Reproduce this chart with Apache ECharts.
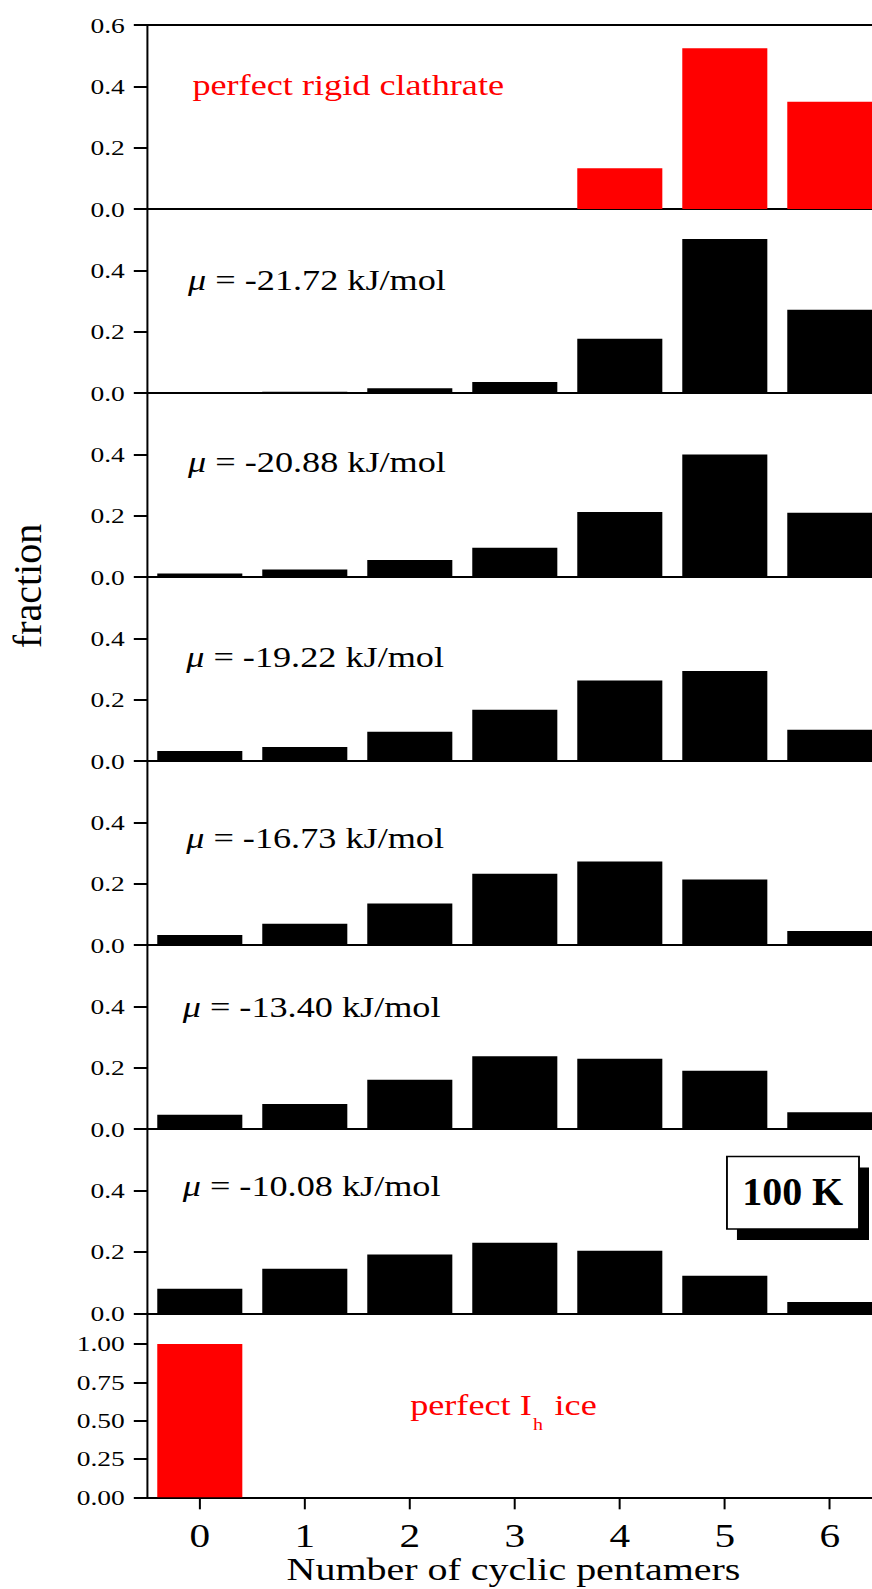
<!DOCTYPE html>
<html>
<head>
<meta charset="utf-8">
<script src="https://cdn.jsdelivr.net/npm/echarts@6/dist/echarts.min.js"></script>
<style>
html,body{margin:0;padding:0;background:#fff;overflow:hidden;}
#c{width:698px;height:1589px;transform:scaleX(1.249284);transform-origin:0 0;}
</style>
</head>
<body>
<div id="c"></div>
<script>
// ---- data ----
const categories = ['0', '1', '2', '3', '4', '5', '6'];
const clathrate = [0, 0, 0, 0, 0.133, 0.524, 0.350];
const mu2172 = [0, 0.004, 0.016, 0.036, 0.177, 0.502, 0.272];
const mu2088 = [0.012, 0.025, 0.056, 0.096, 0.212, 0.400, 0.210];
const mu1922 = [0.033, 0.046, 0.096, 0.168, 0.263, 0.294, 0.102];
const mu1673 = [0.033, 0.070, 0.136, 0.233, 0.273, 0.214, 0.046];
const mu1340 = [0.047, 0.082, 0.161, 0.238, 0.230, 0.191, 0.055];
const mu1008 = [0.080, 0.145, 0.192, 0.230, 0.204, 0.122, 0.037];
const iceIh = [1.00, 0, 0, 0, 0, 0, 0];
const muLabels = ['-21.72', '-20.88', '-19.22', '-16.73', '-13.40', '-10.08'];
const clathrateLabel = 'perfect rigid clathrate';
const xTitle = 'Number of cyclic pentamers';
const yTitle = 'fraction';
const tempLabel = '100 K';

// ---- layout ----
const S = 872 / 698;
const F = 'Liberation Serif';
const panelData = [clathrate, mu2172, mu2088, mu1922, mu1673, mu1340, mu1008, iceIh];
const panelColor = ['#ff0000', '#000', '#000', '#000', '#000', '#000', '#000', '#ff0000'];
const TOP = 25, PH = 184.04;
const GL = 117.9, GW = 588.35;

const grids = [], xAxes = [], yAxes = [], series = [];
panelData.forEach((d, i) => {
  const last = i === 7;
  grids.push({left: GL, width: GW, top: TOP + i * PH, height: PH, containLabel: false, outerBoundsMode: 'none'});
  xAxes.push({
    type: 'category', gridIndex: i, data: categories, position: 'bottom',
    axisLine: {show: true, lineStyle: {color: '#000', width: 2}},
    axisTick: last ? {show: true, alignWithLabel: true, inside: false, length: 12, lineStyle: {color: '#000', width: 1.6}} : {show: false},
    axisLabel: last ? {show: true, fontFamily: F, fontSize: 33, lineHeight: 28, color: '#000', margin: 25} : {show: false},
    splitLine: {show: false}
  });
  yAxes.push({
    type: 'value', gridIndex: i, min: 0, max: last ? 1.2 : 0.6, interval: last ? 0.25 : 0.2,
    axisLine: {show: true, lineStyle: {color: '#000', width: 1.6}},
    axisTick: {show: true, inside: false, length: 10.8, lineStyle: {color: '#000', width: 2}},
    axisLabel: {
      show: true, fontFamily: F, fontSize: 22, color: '#000', margin: 18,
      showMaxLabel: i === 0,
      formatter: last ? (v => (v > 1.001 ? '' : v.toFixed(2))) : (v => v.toFixed(1))
    },
    splitLine: {show: false}
  });
  series.push({
    type: 'bar', xAxisIndex: i, yAxisIndex: i, data: d, barWidth: '81%',
    itemStyle: {color: panelColor[i]}, silent: true
  });
});
// top frame line of first panel
xAxes.push({
  type: 'category', gridIndex: 0, data: categories, position: 'top',
  axisLine: {show: true, lineStyle: {color: '#000', width: 2}},
  axisTick: {show: false}, axisLabel: {show: false}, splitLine: {show: false}
});

const muPos = [[150.5, 280.5], [150.5, 462.0], [149.0, 657.0], [149.0, 838.3], [146.2, 1007.0], [146.2, 1186.5]];
const graphics = [];
muLabels.forEach((m, k) => {
  graphics.push({
    type: 'text', x: muPos[k][0], y: muPos[k][1], z: 100,
    style: {
      text: '{i|μ} = ' + m + ' kJ/mol', fontFamily: F, fontSize: 29, fill: '#000',
      align: 'left', verticalAlign: 'middle',
      rich: {i: {fontStyle: 'italic', fontFamily: F, fontSize: 29, fill: '#000'}}
    }
  });
});
graphics.push({type: 'text', x: 154, y: 84.9, z: 100,
  style: {text: clathrateLabel, fontFamily: F, fontSize: 29, fill: '#ff0000', align: 'left', verticalAlign: 'middle'}});
graphics.push({type: 'text', x: 328.3, y: 1405.2, z: 100,
  style: {text: 'perfect I', fontFamily: F, fontSize: 29, fill: '#ff0000', align: 'left', verticalAlign: 'middle'}});
graphics.push({type: 'text', x: 426.6, y: 1424.6, z: 100,
  style: {text: 'h', fontFamily: F, fontSize: 16, fill: '#ff0000', align: 'left', verticalAlign: 'middle'}});
graphics.push({type: 'text', x: 443.9, y: 1405.2, z: 100,
  style: {text: 'ice', fontFamily: F, fontSize: 29, fill: '#ff0000', align: 'left', verticalAlign: 'middle'}});
graphics.push({type: 'text', x: 411, y: 1569, z: 100,
  style: {text: xTitle, fontFamily: F, fontSize: 32, lineHeight: 26, fill: '#000', align: 'center', verticalAlign: 'middle'}});
graphics.push({type: 'text', x: 21.9, y: 586, rotation: Math.PI / 2, scaleY: 1 / S, z: 100,
  style: {text: yTitle, fontFamily: F, fontSize: 40, fill: '#000', align: 'center', verticalAlign: 'middle'}});
// 100 K box with shadow
graphics.push({type: 'rect', z: 98, shape: {x: 589.9, y: 1167.5, width: 105.7, height: 72.5}, style: {fill: '#000'}});
graphics.push({type: 'rect', z: 99, shape: {x: 581.9, y: 1156.5, width: 105.7, height: 72.5}, style: {fill: '#fff', stroke: '#000', lineWidth: 1.5}});
graphics.push({type: 'text', x: 634.5, y: 1191.5, scaleX: 1 / S, z: 101,
  style: {text: tempLabel, fontFamily: F, fontSize: 40, fontWeight: 'bold', fill: '#000', align: 'center', verticalAlign: 'middle'}});

const chart = echarts.init(document.getElementById('c'), null, {renderer: 'svg'});
chart.setOption({
  animation: false,
  backgroundColor: '#fff',
  grid: grids,
  xAxis: xAxes,
  yAxis: yAxes,
  series: series,
  graphic: {elements: graphics}
});
</script>
</body>
</html>
